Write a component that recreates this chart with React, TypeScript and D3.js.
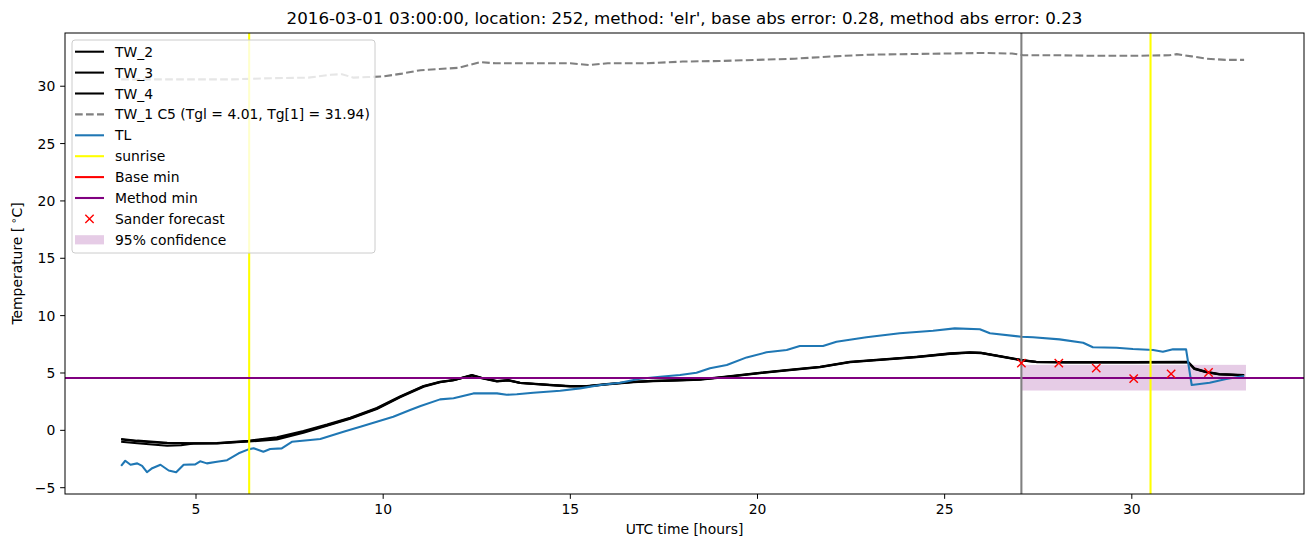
import React from "react";
import * as d3 from "d3";

type Pt = [number, number];

const titleText =
  "2016-03-01 03:00:00, location: 252, method: 'elr', base abs error: 0.28, method abs error: 0.23";

const xTicks = [5, 10, 15, 20, 25, 30];
const yTicks = [-5, 0, 5, 10, 15, 20, 25, 30];

const tw2Data: Pt[] = [
  [3.0, -0.75], [3.43, -0.9], [4.23, -1.08], [4.94, -1.12], [5.56, -1.1], [6.4, -0.92],
  [7.16, -0.6], [7.87, -0.05], [8.5, 0.5], [9.12, 1.1], [9.83, 1.95], [10.45, 2.95],
  [11.08, 3.86], [11.52, 4.24], [11.88, 4.39], [12.37, 4.82], [12.63, 4.59], [13.04, 4.3],
  [13.34, 4.39], [13.66, 4.15], [14.55, 3.95], [14.99, 3.86], [15.44, 3.86], [15.97, 4.04],
  [16.68, 4.24], [17.21, 4.32], [17.93, 4.39], [18.46, 4.45], [18.99, 4.62], [19.53, 4.82],
  [20.06, 5.02], [20.78, 5.26], [21.67, 5.54], [22.47, 5.98], [23.36, 6.19], [24.25, 6.42],
  [25.14, 6.71], [25.67, 6.8], [25.98, 6.77], [26.47, 6.48], [27.05, 6.13], [27.45, 5.98],
  [28.25, 5.95], [30.03, 5.95], [31.5, 5.98], [31.67, 5.41], [31.99, 5.11], [32.34, 4.91],
  [33.0, 4.82],
];

const tw3Data: Pt[] = [
  [3.0, -1.0], [3.43, -1.12], [4.23, -1.35], [4.6, -1.3], [4.94, -1.15], [5.56, -1.15],
  [6.4, -0.98], [7.16, -0.8], [7.87, -0.2], [8.5, 0.4], [9.12, 1.0], [9.83, 1.85],
  [10.45, 2.88], [11.08, 3.8], [11.52, 4.2], [11.88, 4.36], [12.37, 4.78], [12.63, 4.55],
  [13.04, 4.26], [13.34, 4.35], [13.66, 4.12], [14.55, 3.92], [14.99, 3.83], [15.44, 3.83],
  [15.97, 4.0], [16.68, 4.2], [17.21, 4.28], [17.93, 4.35], [18.46, 4.42], [18.99, 4.58],
  [19.53, 4.78], [20.06, 4.98], [20.78, 5.22], [21.67, 5.5], [22.47, 5.94], [23.36, 6.15],
  [24.25, 6.38], [25.14, 6.66], [25.67, 6.76], [25.98, 6.73], [26.47, 6.45], [27.05, 6.1],
  [27.45, 5.95], [28.25, 5.92], [30.03, 5.92], [31.5, 5.95], [31.67, 5.35], [31.99, 5.06],
  [32.34, 4.87], [33.0, 4.8],
];

const tw4Data: Pt[] = [
  [3.0, -0.8], [3.43, -0.95], [4.23, -1.12], [4.94, -1.15], [5.56, -1.12], [6.4, -0.95],
  [7.16, -0.68], [7.87, -0.12], [8.5, 0.45], [9.12, 1.05], [9.83, 1.9], [10.45, 2.92],
  [11.08, 3.84], [11.52, 4.22], [11.88, 4.37], [12.37, 4.8], [12.63, 4.57], [13.04, 4.28],
  [13.34, 4.37], [13.66, 4.13], [14.55, 3.93], [14.99, 3.85], [15.44, 3.85], [15.97, 4.02],
  [16.68, 4.22], [17.21, 4.3], [17.93, 4.37], [18.46, 4.43], [18.99, 4.6], [19.53, 4.8],
  [20.06, 5.0], [20.78, 5.24], [21.67, 5.52], [22.47, 5.96], [23.36, 6.17], [24.25, 6.4],
  [25.14, 6.69], [25.67, 6.78], [25.98, 6.75], [26.47, 6.46], [27.05, 6.12], [27.45, 5.96],
  [28.25, 5.93], [30.03, 5.93], [31.5, 5.96], [31.67, 5.38], [31.99, 5.08], [32.34, 4.89],
  [33.0, 4.81],
];

const tw1Data: Pt[] = [
  [3.0, 30.6], [4.0, 30.6], [5.0, 30.6], [6.0, 30.6], [7.0, 30.7], [8.0, 30.75], [8.6, 31.0],
  [8.9, 31.05], [9.2, 30.75], [9.6, 30.8], [10.0, 30.85], [10.5, 31.1], [11.0, 31.4],
  [11.5, 31.5], [12.0, 31.6], [12.6, 32.1], [13.0, 32.0], [14.0, 32.0], [15.0, 32.0],
  [15.5, 31.85], [16.0, 32.0], [17.0, 32.0], [18.0, 32.15], [19.0, 32.2], [20.0, 32.3],
  [21.0, 32.4], [22.0, 32.6], [23.0, 32.75], [24.0, 32.8], [25.0, 32.85], [26.0, 32.9],
  [26.8, 32.85], [27.1, 32.7], [28.0, 32.7], [29.0, 32.65], [30.0, 32.65], [31.0, 32.7],
  [31.2, 32.8], [31.6, 32.6], [32.0, 32.4], [32.5, 32.3], [33.0, 32.3],
];

const tlData: Pt[] = [
  [3.0, -3.1], [3.11, -2.65], [3.25, -3.0], [3.43, -2.88], [3.56, -3.1], [3.69, -3.65],
  [3.83, -3.3], [4.05, -3.0], [4.27, -3.5], [4.47, -3.65], [4.67, -3.0], [4.98, -2.97],
  [5.11, -2.7], [5.29, -2.88], [5.56, -2.74], [5.83, -2.6], [6.14, -2.0], [6.4, -1.66],
  [6.54, -1.57], [6.8, -1.87], [6.98, -1.63], [7.29, -1.57], [7.56, -1.0], [8.05, -0.85],
  [8.32, -0.76], [8.94, -0.12], [9.39, 0.32], [9.83, 0.75], [10.27, 1.19], [10.72, 1.77],
  [11.0, 2.12], [11.52, 2.7], [11.88, 2.79], [12.41, 3.22], [13.04, 3.22], [13.3, 3.1],
  [13.57, 3.14], [14.01, 3.28], [14.73, 3.45], [15.26, 3.66], [15.8, 3.95], [16.33, 4.15],
  [16.86, 4.5], [17.4, 4.67], [17.93, 4.82], [18.37, 5.02], [18.73, 5.41], [19.18, 5.69],
  [19.71, 6.36], [20.24, 6.8], [20.78, 7.0], [21.13, 7.35], [21.75, 7.35], [22.11, 7.73],
  [22.91, 8.11], [23.8, 8.46], [24.69, 8.68], [25.27, 8.89], [25.94, 8.81], [26.21, 8.46],
  [27.05, 8.16], [27.36, 8.11], [28.07, 7.93], [28.7, 7.64], [28.96, 7.24], [29.59, 7.2],
  [30.03, 7.09], [30.57, 7.0], [30.83, 6.85], [31.1, 7.06], [31.45, 7.06], [31.6, 3.95],
  [32.08, 4.15], [32.52, 4.47], [33.0, 4.73],
];

const sunriseHours = [6.42, 30.5];
const forecastHour = 27.05;
const baseMinValue = 4.56;
const methodMinValue = 4.56;
const sanderHours = [27.05, 28.05, 29.05, 30.05, 31.05, 32.05];
const sanderValues = [5.86, 5.86, 5.42, 4.51, 4.92, 5.04];
const confRange = { x0: 27.05, x1: 33.05, low: 3.47, high: 5.71 };

const legendLabels = [
  "TW_2",
  "TW_3",
  "TW_4",
  "TW_1 C5 (Tgl = 4.01, Tg[1] = 31.94)",
  "TL",
  "sunrise",
  "Base min",
  "Method min",
  "Sander forecast",
  "95% confidence",
];

const W = 1313;
const H = 547;
const M = { left: 65, right: 1304, top: 33, bottom: 494 };
const FONT = "DejaVu Sans";
const FS = 13.9;
const DASH = "7.7,3.3";

export default function App() {
  const x = d3.scaleLinear().domain([1.5, 34.6]).range([M.left, M.right]);
  const y = d3.scaleLinear().domain([-5.55, 34.64]).range([M.bottom, M.top]);
  const line = d3
    .line<Pt>()
    .x((d) => x(d[0]))
    .y((d) => y(d[1]));

  const lw = 2.08;
  const legendX = 72;
  const legendY = 40;
  const rowH = 20.9;
  const firstRow = 51.7;
  const hx0 = 75;
  const hx1 = 104;
  const tx = 115;
  const ms = 4.17;

  const xMark = (cx: number, cy: number) =>
    `M${cx - ms},${cy - ms}L${cx + ms},${cy + ms}M${cx - ms},${cy + ms}L${cx + ms},${cy - ms}`;

  const legendHandle = (i: number) => {
    const cy = firstRow + i * rowH;
    const cx = (hx0 + hx1) / 2;
    switch (i) {
      case 0:
      case 1:
      case 2:
        return <line x1={hx0} x2={hx1} y1={cy} y2={cy} stroke="black" strokeWidth={lw} />;
      case 3:
        return <line x1={hx0} x2={hx1} y1={cy} y2={cy} stroke="gray" strokeWidth={lw} strokeDasharray={DASH} />;
      case 4:
        return <line x1={hx0} x2={hx1} y1={cy} y2={cy} stroke="#1f77b4" strokeWidth={lw} />;
      case 5:
        return <line x1={hx0} x2={hx1} y1={cy} y2={cy} stroke="yellow" strokeWidth={lw} />;
      case 6:
        return <line x1={hx0} x2={hx1} y1={cy} y2={cy} stroke="red" strokeWidth={lw} />;
      case 7:
        return <line x1={hx0} x2={hx1} y1={cy} y2={cy} stroke="purple" strokeWidth={lw} />;
      case 8:
        return <path d={xMark(cx, cy)} stroke="red" strokeWidth={1.39} />;
      default:
        return <rect x={hx0} y={cy - 4.6} width={hx1 - hx0} height={9.2} fill="purple" fillOpacity={0.2} />;
    }
  };

  return (
    <svg
      width={W}
      height={H}
      style={{ position: "absolute", left: 0, top: 0, background: "white" }}
      fontFamily={FONT}
    >
      <rect x={0} y={0} width={W} height={H} fill="white" />
      <defs>
        <clipPath id="plotClip">
          <rect x={M.left} y={M.top} width={M.right - M.left} height={M.bottom - M.top} />
        </clipPath>
      </defs>
      <g clipPath="url(#plotClip)">
        <rect
          x={x(confRange.x0)}
          y={y(confRange.high)}
          width={x(confRange.x1) - x(confRange.x0)}
          height={y(confRange.low) - y(confRange.high)}
          fill="purple"
          fillOpacity={0.2}
        />
        {[tw2Data, tw3Data, tw4Data].map((d, i) => (
          <path key={i} d={line(d) || ""} fill="none" stroke="black" strokeWidth={lw} strokeLinejoin="round" />
        ))}
        <path d={line(tw1Data) || ""} fill="none" stroke="gray" strokeWidth={lw} strokeDasharray={DASH} />
        <path d={line(tlData) || ""} fill="none" stroke="#1f77b4" strokeWidth={lw} strokeLinejoin="round" />
        {sunriseHours.map((h, i) => (
          <line key={i} x1={x(h)} x2={x(h)} y1={M.top} y2={M.bottom} stroke="yellow" strokeWidth={lw} />
        ))}
        <line x1={M.left} x2={M.right} y1={y(baseMinValue)} y2={y(baseMinValue)} stroke="red" strokeWidth={lw} />
        <line
          x1={M.left}
          x2={M.right}
          y1={y(methodMinValue)}
          y2={y(methodMinValue)}
          stroke="purple"
          strokeWidth={lw}
        />
        <line
          x1={x(forecastHour)}
          x2={x(forecastHour)}
          y1={M.top}
          y2={M.bottom}
          stroke="gray"
          strokeWidth={lw}
        />
        {sanderHours.map((h, i) => (
          <path key={i} d={xMark(x(h), y(sanderValues[i]))} stroke="red" strokeWidth={1.39} />
        ))}
      </g>
      <rect
        x={M.left}
        y={M.top}
        width={M.right - M.left}
        height={M.bottom - M.top}
        fill="none"
        stroke="black"
        strokeWidth={1}
      />
      {xTicks.map((t) => (
        <g key={t}>
          <line x1={x(t)} x2={x(t)} y1={M.bottom} y2={M.bottom + 4.86} stroke="black" strokeWidth={1} />
          <text x={x(t)} y={M.bottom + 20.3} textAnchor="middle" fontSize={FS}>
            {t}
          </text>
        </g>
      ))}
      {yTicks.map((t) => (
        <g key={t}>
          <line x1={M.left - 4.86} x2={M.left} y1={y(t)} y2={y(t)} stroke="black" strokeWidth={1} />
          <text x={M.left - 9.7} y={y(t)} dy="0.36em" textAnchor="end" fontSize={FS}>
            {t < 0 ? "\u2212" + Math.abs(t) : t}
          </text>
        </g>
      ))}
      <text x={(M.left + M.right) / 2} y={534} textAnchor="middle" fontSize={FS}>
        UTC time [hours]
      </text>
      <text transform={`translate(22,${(M.top + M.bottom) / 2}) rotate(-90)`} textAnchor="middle" fontSize={FS}>
        Temperature [
        <tspan fontSize={10} dx={3} dy={-5}>
          {"\u2218"}
        </tspan>
        <tspan dy={5}>C]</tspan>
      </text>
      <text x={(M.left + M.right) / 2} y={24} textAnchor="middle" fontSize={16.7}>
        {titleText}
      </text>
      <rect
        x={legendX}
        y={legendY}
        width={303}
        height={213}
        rx={3}
        fill="white"
        fillOpacity={0.8}
        stroke="#cccccc"
        strokeWidth={1}
      />
      {legendLabels.map((lab, i) => (
        <g key={lab}>
          {legendHandle(i)}
          <text x={tx} y={firstRow + i * rowH} dy="0.36em" fontSize={FS}>
            {lab}
          </text>
        </g>
      ))}
    </svg>
  );
}
